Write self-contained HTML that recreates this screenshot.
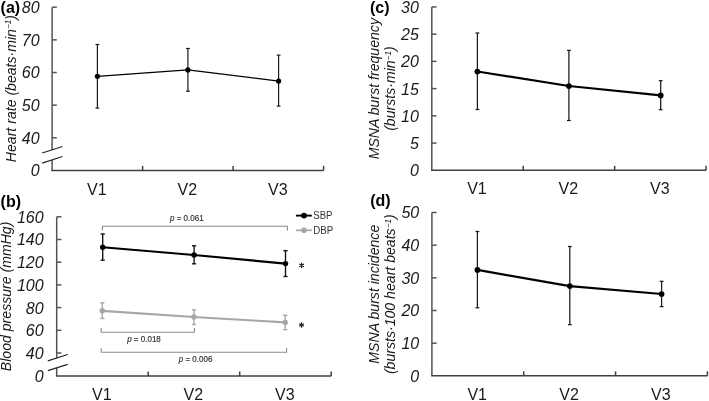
<!DOCTYPE html>
<html><head><meta charset="utf-8"><style>
html,body{margin:0;padding:0;background:#fff;}
svg{display:block;font-family:"Liberation Sans", sans-serif;filter:blur(0.3px);}
</style></head><body>
<svg width="709" height="401" viewBox="0 0 709 401">
<rect width="709" height="401" fill="#fff"/>
<line x1="52.10" y1="7.20" x2="52.10" y2="149.90" stroke="#545454" stroke-width="1.5" stroke-linecap="butt"/>
<line x1="52.10" y1="160.00" x2="52.10" y2="170.40" stroke="#545454" stroke-width="1.5" stroke-linecap="butt"/>
<line x1="52.10" y1="7.20" x2="56.80" y2="7.20" stroke="#545454" stroke-width="1.5" stroke-linecap="butt"/>
<line x1="52.10" y1="39.86" x2="56.80" y2="39.86" stroke="#545454" stroke-width="1.5" stroke-linecap="butt"/>
<line x1="52.10" y1="72.51" x2="56.80" y2="72.51" stroke="#545454" stroke-width="1.5" stroke-linecap="butt"/>
<line x1="52.10" y1="105.16" x2="56.80" y2="105.16" stroke="#545454" stroke-width="1.5" stroke-linecap="butt"/>
<line x1="52.10" y1="137.82" x2="56.80" y2="137.82" stroke="#545454" stroke-width="1.5" stroke-linecap="butt"/>
<line x1="51.35" y1="170.40" x2="323.60" y2="170.40" stroke="#404040" stroke-width="1.5" stroke-linecap="butt"/>
<line x1="142.60" y1="170.40" x2="142.60" y2="165.90" stroke="#404040" stroke-width="1.5" stroke-linecap="butt"/>
<line x1="233.10" y1="170.40" x2="233.10" y2="165.90" stroke="#404040" stroke-width="1.5" stroke-linecap="butt"/>
<line x1="323.60" y1="170.40" x2="323.60" y2="165.90" stroke="#404040" stroke-width="1.5" stroke-linecap="butt"/>
<text x="39.60" y="13.15" font-size="16" text-anchor="end" font-style="italic" font-weight="normal" fill="#1a1a1a" >80</text>
<text x="39.60" y="45.81" font-size="16" text-anchor="end" font-style="italic" font-weight="normal" fill="#1a1a1a" >70</text>
<text x="39.60" y="78.46" font-size="16" text-anchor="end" font-style="italic" font-weight="normal" fill="#1a1a1a" >60</text>
<text x="39.60" y="111.11" font-size="16" text-anchor="end" font-style="italic" font-weight="normal" fill="#1a1a1a" >50</text>
<text x="39.60" y="143.77" font-size="16" text-anchor="end" font-style="italic" font-weight="normal" fill="#1a1a1a" >40</text>
<text x="39.60" y="176.35" font-size="16" text-anchor="end" font-style="italic" font-weight="normal" fill="#1a1a1a" >0</text>
<text x="96.75" y="194.70" font-size="16" text-anchor="middle" font-style="normal" font-weight="normal" fill="#1a1a1a" >V1</text>
<text x="187.25" y="194.70" font-size="16" text-anchor="middle" font-style="normal" font-weight="normal" fill="#1a1a1a" >V2</text>
<text x="277.75" y="194.70" font-size="16" text-anchor="middle" font-style="normal" font-weight="normal" fill="#1a1a1a" >V3</text>
<line x1="42.20" y1="153.00" x2="62.50" y2="146.50" stroke="#262626" stroke-width="1.3" stroke-linecap="butt"/>
<line x1="42.20" y1="163.20" x2="62.50" y2="156.50" stroke="#262626" stroke-width="1.3" stroke-linecap="butt"/>
<line x1="56.70" y1="216.80" x2="56.70" y2="358.10" stroke="#545454" stroke-width="1.5" stroke-linecap="butt"/>
<line x1="56.70" y1="368.00" x2="56.70" y2="376.00" stroke="#545454" stroke-width="1.5" stroke-linecap="butt"/>
<line x1="56.70" y1="216.80" x2="61.40" y2="216.80" stroke="#545454" stroke-width="1.5" stroke-linecap="butt"/>
<line x1="56.70" y1="239.50" x2="61.40" y2="239.50" stroke="#545454" stroke-width="1.5" stroke-linecap="butt"/>
<line x1="56.70" y1="262.20" x2="61.40" y2="262.20" stroke="#545454" stroke-width="1.5" stroke-linecap="butt"/>
<line x1="56.70" y1="284.90" x2="61.40" y2="284.90" stroke="#545454" stroke-width="1.5" stroke-linecap="butt"/>
<line x1="56.70" y1="307.60" x2="61.40" y2="307.60" stroke="#545454" stroke-width="1.5" stroke-linecap="butt"/>
<line x1="56.70" y1="330.30" x2="61.40" y2="330.30" stroke="#545454" stroke-width="1.5" stroke-linecap="butt"/>
<line x1="56.70" y1="353.00" x2="61.40" y2="353.00" stroke="#545454" stroke-width="1.5" stroke-linecap="butt"/>
<line x1="55.95" y1="376.00" x2="331.20" y2="376.00" stroke="#404040" stroke-width="1.5" stroke-linecap="butt"/>
<line x1="148.20" y1="376.00" x2="148.20" y2="371.50" stroke="#404040" stroke-width="1.5" stroke-linecap="butt"/>
<line x1="239.70" y1="376.00" x2="239.70" y2="371.50" stroke="#404040" stroke-width="1.5" stroke-linecap="butt"/>
<line x1="331.20" y1="376.00" x2="331.20" y2="371.50" stroke="#404040" stroke-width="1.5" stroke-linecap="butt"/>
<text x="43.60" y="222.75" font-size="16" text-anchor="end" font-style="italic" font-weight="normal" fill="#1a1a1a" >160</text>
<text x="43.60" y="245.45" font-size="16" text-anchor="end" font-style="italic" font-weight="normal" fill="#1a1a1a" >140</text>
<text x="43.60" y="268.15" font-size="16" text-anchor="end" font-style="italic" font-weight="normal" fill="#1a1a1a" >120</text>
<text x="43.60" y="290.85" font-size="16" text-anchor="end" font-style="italic" font-weight="normal" fill="#1a1a1a" >100</text>
<text x="43.60" y="313.55" font-size="16" text-anchor="end" font-style="italic" font-weight="normal" fill="#1a1a1a" >80</text>
<text x="43.60" y="336.25" font-size="16" text-anchor="end" font-style="italic" font-weight="normal" fill="#1a1a1a" >60</text>
<text x="43.60" y="358.95" font-size="16" text-anchor="end" font-style="italic" font-weight="normal" fill="#1a1a1a" >40</text>
<text x="43.60" y="381.95" font-size="16" text-anchor="end" font-style="italic" font-weight="normal" fill="#1a1a1a" >0</text>
<text x="101.85" y="400.20" font-size="16" text-anchor="middle" font-style="normal" font-weight="normal" fill="#1a1a1a" >V1</text>
<text x="193.35" y="400.20" font-size="16" text-anchor="middle" font-style="normal" font-weight="normal" fill="#1a1a1a" >V2</text>
<text x="284.85" y="400.20" font-size="16" text-anchor="middle" font-style="normal" font-weight="normal" fill="#1a1a1a" >V3</text>
<line x1="47.80" y1="360.80" x2="67.70" y2="354.50" stroke="#262626" stroke-width="1.3" stroke-linecap="butt"/>
<line x1="47.80" y1="370.60" x2="67.70" y2="364.30" stroke="#262626" stroke-width="1.3" stroke-linecap="butt"/>
<line x1="431.80" y1="6.90" x2="431.80" y2="170.30" stroke="#545454" stroke-width="1.5" stroke-linecap="butt"/>
<line x1="431.80" y1="6.90" x2="436.50" y2="6.90" stroke="#545454" stroke-width="1.5" stroke-linecap="butt"/>
<line x1="431.80" y1="34.13" x2="436.50" y2="34.13" stroke="#545454" stroke-width="1.5" stroke-linecap="butt"/>
<line x1="431.80" y1="61.37" x2="436.50" y2="61.37" stroke="#545454" stroke-width="1.5" stroke-linecap="butt"/>
<line x1="431.80" y1="88.61" x2="436.50" y2="88.61" stroke="#545454" stroke-width="1.5" stroke-linecap="butt"/>
<line x1="431.80" y1="115.84" x2="436.50" y2="115.84" stroke="#545454" stroke-width="1.5" stroke-linecap="butt"/>
<line x1="431.80" y1="143.08" x2="436.50" y2="143.08" stroke="#545454" stroke-width="1.5" stroke-linecap="butt"/>
<line x1="431.05" y1="170.30" x2="706.10" y2="170.30" stroke="#404040" stroke-width="1.5" stroke-linecap="butt"/>
<line x1="523.23" y1="170.30" x2="523.23" y2="165.80" stroke="#404040" stroke-width="1.5" stroke-linecap="butt"/>
<line x1="614.67" y1="170.30" x2="614.67" y2="165.80" stroke="#404040" stroke-width="1.5" stroke-linecap="butt"/>
<line x1="706.10" y1="170.30" x2="706.10" y2="165.80" stroke="#404040" stroke-width="1.5" stroke-linecap="butt"/>
<text x="418.90" y="12.85" font-size="16" text-anchor="end" font-style="italic" font-weight="normal" fill="#1a1a1a" >30</text>
<text x="418.90" y="40.09" font-size="16" text-anchor="end" font-style="italic" font-weight="normal" fill="#1a1a1a" >25</text>
<text x="418.90" y="67.32" font-size="16" text-anchor="end" font-style="italic" font-weight="normal" fill="#1a1a1a" >20</text>
<text x="418.90" y="94.56" font-size="16" text-anchor="end" font-style="italic" font-weight="normal" fill="#1a1a1a" >15</text>
<text x="418.90" y="121.79" font-size="16" text-anchor="end" font-style="italic" font-weight="normal" fill="#1a1a1a" >10</text>
<text x="418.90" y="149.03" font-size="16" text-anchor="end" font-style="italic" font-weight="normal" fill="#1a1a1a" >5</text>
<text x="418.90" y="176.26" font-size="16" text-anchor="end" font-style="italic" font-weight="normal" fill="#1a1a1a" >0</text>
<text x="476.92" y="194.40" font-size="16" text-anchor="middle" font-style="normal" font-weight="normal" fill="#1a1a1a" >V1</text>
<text x="568.35" y="194.40" font-size="16" text-anchor="middle" font-style="normal" font-weight="normal" fill="#1a1a1a" >V2</text>
<text x="659.78" y="194.40" font-size="16" text-anchor="middle" font-style="normal" font-weight="normal" fill="#1a1a1a" >V3</text>
<line x1="431.90" y1="212.50" x2="431.90" y2="375.85" stroke="#545454" stroke-width="1.5" stroke-linecap="butt"/>
<line x1="431.90" y1="212.50" x2="436.60" y2="212.50" stroke="#545454" stroke-width="1.5" stroke-linecap="butt"/>
<line x1="431.90" y1="245.17" x2="436.60" y2="245.17" stroke="#545454" stroke-width="1.5" stroke-linecap="butt"/>
<line x1="431.90" y1="277.84" x2="436.60" y2="277.84" stroke="#545454" stroke-width="1.5" stroke-linecap="butt"/>
<line x1="431.90" y1="310.51" x2="436.60" y2="310.51" stroke="#545454" stroke-width="1.5" stroke-linecap="butt"/>
<line x1="431.90" y1="343.18" x2="436.60" y2="343.18" stroke="#545454" stroke-width="1.5" stroke-linecap="butt"/>
<line x1="431.15" y1="375.85" x2="707.40" y2="375.85" stroke="#404040" stroke-width="1.5" stroke-linecap="butt"/>
<line x1="523.73" y1="375.85" x2="523.73" y2="371.35" stroke="#404040" stroke-width="1.5" stroke-linecap="butt"/>
<line x1="615.57" y1="375.85" x2="615.57" y2="371.35" stroke="#404040" stroke-width="1.5" stroke-linecap="butt"/>
<line x1="707.40" y1="375.85" x2="707.40" y2="371.35" stroke="#404040" stroke-width="1.5" stroke-linecap="butt"/>
<text x="419.20" y="218.45" font-size="16" text-anchor="end" font-style="italic" font-weight="normal" fill="#1a1a1a" >50</text>
<text x="419.20" y="251.12" font-size="16" text-anchor="end" font-style="italic" font-weight="normal" fill="#1a1a1a" >40</text>
<text x="419.20" y="283.79" font-size="16" text-anchor="end" font-style="italic" font-weight="normal" fill="#1a1a1a" >30</text>
<text x="419.20" y="316.46" font-size="16" text-anchor="end" font-style="italic" font-weight="normal" fill="#1a1a1a" >20</text>
<text x="419.20" y="349.13" font-size="16" text-anchor="end" font-style="italic" font-weight="normal" fill="#1a1a1a" >10</text>
<text x="419.20" y="381.80" font-size="16" text-anchor="end" font-style="italic" font-weight="normal" fill="#1a1a1a" >0</text>
<text x="477.22" y="400.00" font-size="16" text-anchor="middle" font-style="normal" font-weight="normal" fill="#1a1a1a" >V1</text>
<text x="569.05" y="400.00" font-size="16" text-anchor="middle" font-style="normal" font-weight="normal" fill="#1a1a1a" >V2</text>
<text x="660.88" y="400.00" font-size="16" text-anchor="middle" font-style="normal" font-weight="normal" fill="#1a1a1a" >V3</text>
<line x1="97.40" y1="44.50" x2="97.40" y2="108.10" stroke="#1a1a1a" stroke-width="1.2" stroke-linecap="butt"/>
<line x1="95.50" y1="44.50" x2="99.30" y2="44.50" stroke="#1a1a1a" stroke-width="1.2" stroke-linecap="butt"/>
<line x1="95.50" y1="108.10" x2="99.30" y2="108.10" stroke="#1a1a1a" stroke-width="1.2" stroke-linecap="butt"/>
<line x1="187.90" y1="48.50" x2="187.90" y2="91.20" stroke="#1a1a1a" stroke-width="1.2" stroke-linecap="butt"/>
<line x1="186.00" y1="48.50" x2="189.80" y2="48.50" stroke="#1a1a1a" stroke-width="1.2" stroke-linecap="butt"/>
<line x1="186.00" y1="91.20" x2="189.80" y2="91.20" stroke="#1a1a1a" stroke-width="1.2" stroke-linecap="butt"/>
<line x1="278.60" y1="55.10" x2="278.60" y2="106.10" stroke="#1a1a1a" stroke-width="1.2" stroke-linecap="butt"/>
<line x1="276.70" y1="55.10" x2="280.50" y2="55.10" stroke="#1a1a1a" stroke-width="1.2" stroke-linecap="butt"/>
<line x1="276.70" y1="106.10" x2="280.50" y2="106.10" stroke="#1a1a1a" stroke-width="1.2" stroke-linecap="butt"/>
<path d="M97.40,76.30 L187.90,69.90 L278.60,81.10" fill="none" stroke="#000" stroke-width="1.3" stroke-linejoin="round"/>
<circle cx="97.40" cy="76.30" r="2.6" fill="#000"/>
<circle cx="187.90" cy="69.90" r="2.6" fill="#000"/>
<circle cx="278.60" cy="81.10" r="2.6" fill="#000"/>
<line x1="477.40" y1="33.00" x2="477.40" y2="109.50" stroke="#1a1a1a" stroke-width="1.25" stroke-linecap="butt"/>
<line x1="475.50" y1="33.00" x2="479.30" y2="33.00" stroke="#1a1a1a" stroke-width="1.25" stroke-linecap="butt"/>
<line x1="475.50" y1="109.50" x2="479.30" y2="109.50" stroke="#1a1a1a" stroke-width="1.25" stroke-linecap="butt"/>
<line x1="568.90" y1="50.40" x2="568.90" y2="120.50" stroke="#1a1a1a" stroke-width="1.25" stroke-linecap="butt"/>
<line x1="567.00" y1="50.40" x2="570.80" y2="50.40" stroke="#1a1a1a" stroke-width="1.25" stroke-linecap="butt"/>
<line x1="567.00" y1="120.50" x2="570.80" y2="120.50" stroke="#1a1a1a" stroke-width="1.25" stroke-linecap="butt"/>
<line x1="660.70" y1="80.70" x2="660.70" y2="109.70" stroke="#1a1a1a" stroke-width="1.25" stroke-linecap="butt"/>
<line x1="658.80" y1="80.70" x2="662.60" y2="80.70" stroke="#1a1a1a" stroke-width="1.25" stroke-linecap="butt"/>
<line x1="658.80" y1="109.70" x2="662.60" y2="109.70" stroke="#1a1a1a" stroke-width="1.25" stroke-linecap="butt"/>
<path d="M477.40,71.50 L568.90,86.00 L660.70,95.40" fill="none" stroke="#000" stroke-width="2.25" stroke-linejoin="round"/>
<circle cx="477.40" cy="71.50" r="2.85" fill="#000"/>
<circle cx="568.90" cy="86.00" r="2.85" fill="#000"/>
<circle cx="660.70" cy="95.40" r="2.85" fill="#000"/>
<line x1="477.40" y1="231.50" x2="477.40" y2="307.80" stroke="#1a1a1a" stroke-width="1.25" stroke-linecap="butt"/>
<line x1="475.50" y1="231.50" x2="479.30" y2="231.50" stroke="#1a1a1a" stroke-width="1.25" stroke-linecap="butt"/>
<line x1="475.50" y1="307.80" x2="479.30" y2="307.80" stroke="#1a1a1a" stroke-width="1.25" stroke-linecap="butt"/>
<line x1="569.80" y1="246.50" x2="569.80" y2="324.60" stroke="#1a1a1a" stroke-width="1.25" stroke-linecap="butt"/>
<line x1="567.90" y1="246.50" x2="571.70" y2="246.50" stroke="#1a1a1a" stroke-width="1.25" stroke-linecap="butt"/>
<line x1="567.90" y1="324.60" x2="571.70" y2="324.60" stroke="#1a1a1a" stroke-width="1.25" stroke-linecap="butt"/>
<line x1="661.60" y1="281.30" x2="661.60" y2="306.60" stroke="#1a1a1a" stroke-width="1.25" stroke-linecap="butt"/>
<line x1="659.70" y1="281.30" x2="663.50" y2="281.30" stroke="#1a1a1a" stroke-width="1.25" stroke-linecap="butt"/>
<line x1="659.70" y1="306.60" x2="663.50" y2="306.60" stroke="#1a1a1a" stroke-width="1.25" stroke-linecap="butt"/>
<path d="M477.40,269.90 L569.80,286.10 L661.60,294.00" fill="none" stroke="#000" stroke-width="2.25" stroke-linejoin="round"/>
<circle cx="477.40" cy="269.90" r="2.85" fill="#000"/>
<circle cx="569.80" cy="286.10" r="2.85" fill="#000"/>
<circle cx="661.60" cy="294.00" r="2.85" fill="#000"/>
<line x1="102.70" y1="234.00" x2="102.70" y2="260.20" stroke="#111" stroke-width="1.35" stroke-linecap="butt"/>
<line x1="100.60" y1="234.00" x2="104.80" y2="234.00" stroke="#111" stroke-width="1.35" stroke-linecap="butt"/>
<line x1="100.60" y1="260.20" x2="104.80" y2="260.20" stroke="#111" stroke-width="1.35" stroke-linecap="butt"/>
<line x1="194.10" y1="245.80" x2="194.10" y2="263.80" stroke="#111" stroke-width="1.35" stroke-linecap="butt"/>
<line x1="192.00" y1="245.80" x2="196.20" y2="245.80" stroke="#111" stroke-width="1.35" stroke-linecap="butt"/>
<line x1="192.00" y1="263.80" x2="196.20" y2="263.80" stroke="#111" stroke-width="1.35" stroke-linecap="butt"/>
<line x1="285.50" y1="250.70" x2="285.50" y2="276.50" stroke="#111" stroke-width="1.35" stroke-linecap="butt"/>
<line x1="283.40" y1="250.70" x2="287.60" y2="250.70" stroke="#111" stroke-width="1.35" stroke-linecap="butt"/>
<line x1="283.40" y1="276.50" x2="287.60" y2="276.50" stroke="#111" stroke-width="1.35" stroke-linecap="butt"/>
<path d="M102.70,247.25 L194.10,255.00 L285.50,263.60" fill="none" stroke="#000" stroke-width="2.2" stroke-linejoin="round"/>
<circle cx="102.70" cy="247.25" r="2.7" fill="#000"/>
<circle cx="194.10" cy="255.00" r="2.7" fill="#000"/>
<circle cx="285.50" cy="263.60" r="2.7" fill="#000"/>
<line x1="102.30" y1="302.80" x2="102.30" y2="318.50" stroke="#a6a6a6" stroke-width="1.35" stroke-linecap="butt"/>
<line x1="100.20" y1="302.80" x2="104.40" y2="302.80" stroke="#a6a6a6" stroke-width="1.35" stroke-linecap="butt"/>
<line x1="100.20" y1="318.50" x2="104.40" y2="318.50" stroke="#a6a6a6" stroke-width="1.35" stroke-linecap="butt"/>
<line x1="193.90" y1="309.80" x2="193.90" y2="324.50" stroke="#a6a6a6" stroke-width="1.35" stroke-linecap="butt"/>
<line x1="191.80" y1="309.80" x2="196.00" y2="309.80" stroke="#a6a6a6" stroke-width="1.35" stroke-linecap="butt"/>
<line x1="191.80" y1="324.50" x2="196.00" y2="324.50" stroke="#a6a6a6" stroke-width="1.35" stroke-linecap="butt"/>
<line x1="285.20" y1="315.30" x2="285.20" y2="329.70" stroke="#a6a6a6" stroke-width="1.35" stroke-linecap="butt"/>
<line x1="283.10" y1="315.30" x2="287.30" y2="315.30" stroke="#a6a6a6" stroke-width="1.35" stroke-linecap="butt"/>
<line x1="283.10" y1="329.70" x2="287.30" y2="329.70" stroke="#a6a6a6" stroke-width="1.35" stroke-linecap="butt"/>
<path d="M102.30,310.80 L193.90,317.00 L285.20,322.40" fill="none" stroke="#a6a6a6" stroke-width="2.2" stroke-linejoin="round"/>
<circle cx="102.30" cy="310.80" r="2.7" fill="#a6a6a6"/>
<circle cx="193.90" cy="317.00" r="2.7" fill="#a6a6a6"/>
<circle cx="285.20" cy="322.40" r="2.7" fill="#a6a6a6"/>
<path d="M102.4,230.6 V226.3 H287.4 V230.6" fill="none" stroke="#8c8c8c" stroke-width="1.1"/>
<path d="M101.2,328.1 V332.3 H194.5 V328.1" fill="none" stroke="#8c8c8c" stroke-width="1.1"/>
<path d="M101.2,348.1 V352.3 H286.6 V348.1" fill="none" stroke="#8c8c8c" stroke-width="1.1"/>
<text x="170.00" y="221.20" font-size="8.6" fill="#333" stroke="#333" stroke-width="0.18" textLength="33.6" lengthAdjust="spacingAndGlyphs"><tspan font-style="italic">p</tspan> = 0.061</text>
<text x="127.20" y="342.00" font-size="8.6" fill="#333" stroke="#333" stroke-width="0.18" textLength="33.6" lengthAdjust="spacingAndGlyphs"><tspan font-style="italic">p</tspan> = 0.018</text>
<text x="178.80" y="362.00" font-size="8.6" fill="#333" stroke="#333" stroke-width="0.18" textLength="33.6" lengthAdjust="spacingAndGlyphs"><tspan font-style="italic">p</tspan> = 0.006</text>
<path d="M301.60,262.75L301.60,268.05M303.89,264.07L299.31,266.72M299.31,264.07L303.89,266.72" stroke="#1a1a1a" stroke-width="1.15" fill="none"/>
<path d="M301.50,322.35L301.50,327.65M303.79,323.68L299.21,326.32M299.21,323.68L303.79,326.32" stroke="#1a1a1a" stroke-width="1.15" fill="none"/>
<line x1="295.90" y1="215.60" x2="311.80" y2="215.60" stroke="#000" stroke-width="1.9" stroke-linecap="butt"/>
<circle cx="304.00" cy="215.60" r="2.9" fill="#000"/>
<line x1="295.90" y1="230.30" x2="311.80" y2="230.30" stroke="#a6a6a6" stroke-width="1.7" stroke-linecap="butt"/>
<circle cx="304.00" cy="230.30" r="2.8" fill="#a6a6a6"/>
<text x="313.30" y="219.30" font-size="10.0" text-anchor="start" font-style="normal" font-weight="normal" fill="#333" textLength="19.2" lengthAdjust="spacingAndGlyphs">SBP</text>
<text x="313.30" y="234.00" font-size="10.0" text-anchor="start" font-style="normal" font-weight="normal" fill="#333" textLength="20.0" lengthAdjust="spacingAndGlyphs">DBP</text>
<text x="0.60" y="13.00" font-size="16" text-anchor="start" font-style="normal" font-weight="bold" fill="#000" >(a)</text>
<text x="0.60" y="206.60" font-size="16" text-anchor="start" font-style="normal" font-weight="bold" fill="#000" >(b)</text>
<text x="370.00" y="12.90" font-size="16" text-anchor="start" font-style="normal" font-weight="bold" fill="#000" >(c)</text>
<text x="370.20" y="206.40" font-size="16" text-anchor="start" font-style="normal" font-weight="bold" fill="#000" >(d)</text>
<text transform="translate(15.60,88.60) rotate(-90)" x="0" y="0" font-size="14.1" font-style="italic" text-anchor="middle" fill="#1a1a1a">Heart rate (beats·min<tspan font-size="8.2" dy="-4.6">−1</tspan><tspan dy="4.6">)</tspan></text>
<text transform="translate(11.10,296.40) rotate(-90)" x="0" y="0" font-size="14.1" font-style="italic" text-anchor="middle" fill="#1a1a1a">Blood pressure (mmHg)</text>
<text transform="translate(378.90,88.70) rotate(-90)" x="0" y="0" font-size="14.1" font-style="italic" text-anchor="middle" fill="#1a1a1a">MSNA burst frequency</text>
<text transform="translate(395.40,88.60) rotate(-90)" x="0" y="0" font-size="14.1" font-style="italic" text-anchor="middle" fill="#1a1a1a">(bursts·min<tspan font-size="8.2" dy="-4.6">−1</tspan><tspan dy="4.6">)</tspan></text>
<text transform="translate(378.90,294.20) rotate(-90)" x="0" y="0" font-size="14.1" font-style="italic" text-anchor="middle" fill="#1a1a1a">MSNA burst incidence</text>
<text transform="translate(395.40,294.20) rotate(-90)" x="0" y="0" font-size="14.1" font-style="italic" text-anchor="middle" fill="#1a1a1a">(bursts·100 heart beats<tspan font-size="8.2" dy="-4.6">−1</tspan><tspan dy="4.6">)</tspan></text>
</svg>
</body></html>
